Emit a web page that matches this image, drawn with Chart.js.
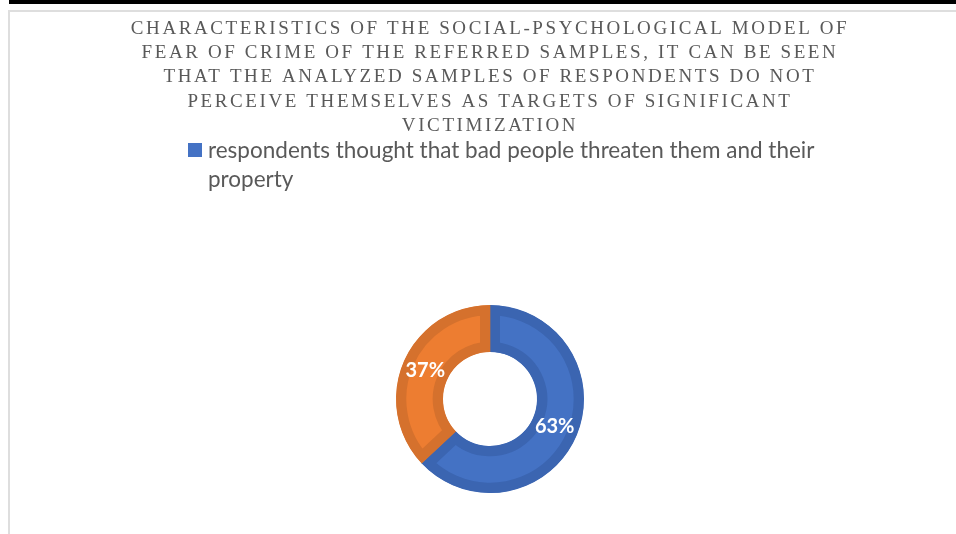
<!DOCTYPE html>
<html>
<head>
<meta charset="utf-8">
<script src="https://cdn.jsdelivr.net/npm/chart.js@4/dist/chart.umd.min.js"></script>
<style>
  html, body { margin: 0; padding: 0; background: #fff; }
  body { width: 956px; height: 534px; position: relative; overflow: hidden; }
  #topbar { position: absolute; left: 9px; top: 0; width: 947px; height: 4px; background: #000; }
  #frame { position: absolute; left: 8px; top: 10px; width: 960px; height: 540px;
           border-top: 2px solid #dedede; border-left: 2px solid #dedede; box-sizing: border-box; }
  #chartBox { position: absolute; left: 0; top: 0; width: 956px; height: 534px; }
  #legend { position: absolute; left: 188px; top: 135px; width: 640px;
            font-family: Lato, "Open Sans", sans-serif; font-size: 22.5px; line-height: 29px; color: #595959; }
  #legend .item { position: relative; padding-left: 20px; }
  #legend .box { position: absolute; left: 0; top: 8px; width: 14px; height: 14px; }
</style>
</head>
<body>
<div id="topbar"></div>
<div id="frame"></div>
<div id="chartBox"><canvas id="chart" width="956" height="534"></canvas></div>
<div id="legend"></div>
<script>
// Title lines
const titleLines = [
  'CHARACTERISTICS OF THE SOCIAL-PSYCHOLOGICAL MODEL OF',
  'FEAR OF CRIME OF THE REFERRED SAMPLES, IT CAN BE SEEN',
  'THAT THE ANALYZED SAMPLES OF RESPONDENTS DO NOT',
  'PERCEIVE THEMSELVES AS TARGETS OF SIGNIFICANT',
  'VICTIMIZATION'
];

// Slice categories and shares (percent)
const categories = [
  'respondents thought that bad people threaten them and their property',
  ''
];
const shares = [63, 37];

// Slice colours
const fillColors = ['#4472C4', '#ED7D31'];
const edgeColors = ['#3B65B1', '#D5712D'];

// Wide tracking for the serif title, switched off before the ring is drawn
const titleTracking = {
  id: 'titleTracking',
  beforeDraw(chart) { chart.ctx.letterSpacing = '2.6px'; },
  beforeDatasetsDraw(chart) { chart.ctx.letterSpacing = '0px'; }
};

// Percentage labels drawn at the middle of each ring segment
const sliceLabels = {
  id: 'sliceLabels',
  afterDatasetsDraw(chart) {
    const ctx = chart.ctx;
    const meta = chart.getDatasetMeta(0);
    const values = chart.data.datasets[0].data;
    ctx.save();
    ctx.letterSpacing = '0px';
    ctx.font = 'bold 20px Lato, "Open Sans", sans-serif';
    ctx.fillStyle = '#ffffff';
    ctx.textAlign = 'center';
    ctx.textBaseline = 'middle';
    meta.data.forEach((arc, i) => {
      const p = arc.tooltipPosition();
      ctx.fillText(values[i] + '%', p.x, p.y);
    });
    ctx.restore();
  }
};

// Legend lists only the named category
const htmlLegend = {
  id: 'htmlLegend',
  afterUpdate(chart) {
    const el = document.getElementById('legend');
    el.innerHTML = '';
    const items = chart.options.plugins.legend.labels.generateLabels(chart);
    items.forEach(it => {
      if (!it.text) return;
      const row = document.createElement('div');
      row.className = 'item';
      const box = document.createElement('span');
      box.className = 'box';
      box.style.background = fillColors[it.index];
      const txt = document.createElement('span');
      txt.textContent = it.text;
      row.appendChild(box);
      row.appendChild(txt);
      el.appendChild(row);
    });
  }
};

new Chart(document.getElementById('chart'), {
  type: 'doughnut',
  data: {
    labels: categories,
    datasets: [{
      data: shares,
      backgroundColor: fillColors,
      borderColor: edgeColors,
      borderWidth: 10,
      borderAlign: 'inner'
    }]
  },
  options: {
    responsive: false,
    animation: false,
    cutout: '50%',
    radius: 94,
    layout: { padding: { left: 24, right: 0, top: 0, bottom: 0 } },
    plugins: {
      legend: { display: false },
      tooltip: { enabled: false },
      title: {
        display: true,
        text: titleLines,
        color: '#595959',
        font: { family: '"Liberation Serif", "Times New Roman", serif', size: 19, weight: 'normal', lineHeight: 24.4 / 19 },
        padding: { top: 16.5, bottom: 125.5 }
      }
    }
  },
  plugins: [titleTracking, sliceLabels, htmlLegend]
});
</script>
</body>
</html>
